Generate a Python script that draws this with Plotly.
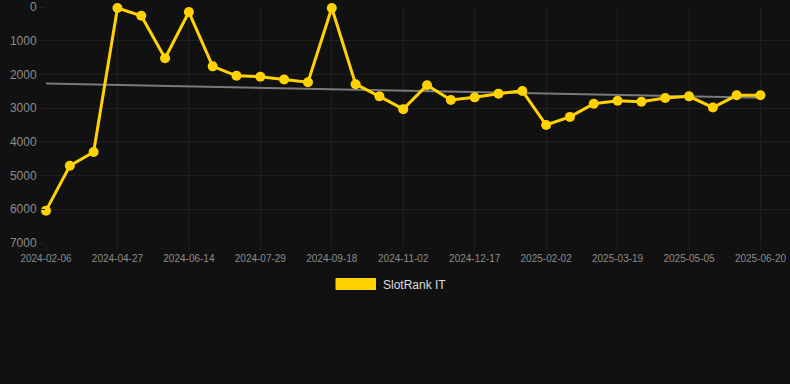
import numpy as np
import plotly.graph_objects as go

dates = [
    "2024-02-06", "2024-03-03", "2024-03-30", "2024-04-27", "2024-05-13", "2024-05-29",
    "2024-06-14", "2024-06-29", "2024-07-14", "2024-07-29", "2024-08-15", "2024-09-01",
    "2024-09-18", "2024-10-03", "2024-10-18", "2024-11-02", "2024-11-17", "2024-12-02",
    "2024-12-17", "2025-01-02", "2025-01-18", "2025-02-02", "2025-02-17", "2025-03-04",
    "2025-03-19", "2025-04-03", "2025-04-19", "2025-05-05", "2025-05-20", "2025-06-05",
    "2025-06-20",
]
rank = [
    6040, 4710, 4300, 30, 260, 1520, 150, 1760, 2040, 2070, 2150, 2230, 30, 2290, 2650,
    3030, 2320, 2760, 2680, 2570, 2490, 3500, 3260, 2870, 2780, 2810, 2700, 2650, 2980,
    2620, 2620,
]
tick_dates = dates[::3]
y_ticks = [0, 1000, 2000, 3000, 4000, 5000, 6000, 7000]
series_name = "SlotRank IT"

idx = np.arange(len(rank))
slope, intercept = np.polyfit(idx, rank, 1)
trend = slope * idx + intercept

GRID = "#1f1f1f"
TICK = "#8c8c8c"
GOLD = "#FFD200"

fig = go.Figure()
fig.add_trace(go.Scatter(
    x=dates, y=trend, mode="lines",
    line=dict(color="#7a7a7a", width=2),
    hoverinfo="skip", showlegend=False,
))
fig.add_trace(go.Scatter(
    x=dates, y=rank, mode="lines+markers", name=series_name,
    line=dict(color=GOLD, width=3),
    marker=dict(color=GOLD, size=10),
    cliponaxis=False, showlegend=False,
))

fig.add_shape(type="rect", xref="paper", yref="paper",
              x0=(335.5 - 46) / 744, x1=(376 - 46) / 744,
              y0=(243 - 290) / 236, y1=(243 - 278) / 236,
              fillcolor=GOLD, line=dict(width=0))
fig.add_annotation(text=series_name, xref="paper", yref="paper",
                   x=(381 - 46) / 744, y=(243 - 284.5) / 236,
                   xanchor="left", yanchor="middle", showarrow=False,
                   font=dict(size=12, color="#dddddd"))

fig.update_layout(
    width=790, height=384,
    margin=dict(l=46, r=0, t=7, b=141),
    paper_bgcolor="#111111", plot_bgcolor="#111111",
    font=dict(family="Liberation Sans, Arial, sans-serif", color=TICK),
    showlegend=False,
    xaxis=dict(
        type="category", categoryorder="array", categoryarray=dates,
        range=[0, 31.24],
        tickmode="array", tickvals=tick_dates, ticktext=tick_dates,
        tickfont=dict(size=10, color=TICK),
        showgrid=True, gridcolor=GRID, gridwidth=1,
        ticks="outside", ticklen=6, tickcolor=GRID,
        zeroline=False, showline=False,
    ),
    yaxis=dict(
        range=[7000, 0],
        tickmode="array", tickvals=y_ticks,
        tickfont=dict(size=12, color=TICK),
        showgrid=True, gridcolor=GRID, gridwidth=1,
        ticks="outside", ticklen=6, tickcolor=GRID,
        zeroline=False, showline=False,
    ),
)

fig.write_html(
    "out.html",
    config={"displayModeBar": False},
    post_script="document.body.style.margin='0';document.body.style.background='#111111';",
)
